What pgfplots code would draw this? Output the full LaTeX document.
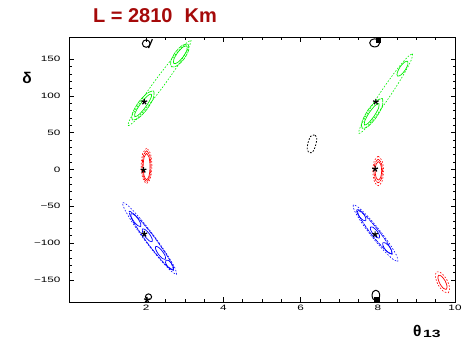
\documentclass[border=0pt]{standalone}
\usepackage{fontspec}
\setmainfont{Liberation Sans}
\newfontfamily\tickfont[FakeStretch=1.5]{Liberation Sans}
\usepackage{pgfplots}
\pgfplotsset{compat=1.18}
\definecolor{titlered}{RGB}{165,10,10}
\definecolor{cgreen}{RGB}{0,240,0}
\definecolor{cred}{RGB}{255,0,0}
\definecolor{cblue}{RGB}{0,0,255}
\pgfplotsset{
  cont/.style={smooth, line width=0.7pt, mark=none},
  mid/.style={cont, dash pattern=on 4pt off 0.8pt},
  outer/.style={cont, line width=0.6pt, dash pattern=on 1.6pt off 1.6pt},
  bf/.style={only marks, black, mark=star, mark size=3pt, mark options={line width=1.2pt}},
}
\begin{document}
\begin{tikzpicture}
\path[use as bounding box] (0,0) rectangle (469pt,343pt);
\begin{axis}[
  at={(69pt,41pt)}, anchor=south west,
  scale only axis, width=386pt, height=265pt,
  xmin=0, xmax=10, ymin=-180, ymax=180,
  xtick={2,4,6,8,10}, xticklabels={2,4,6,8,10},
  ytick={-150,-100,...,150}, yticklabels={−150,−100,−50,0,50,100,150},
  minor x tick num=3, minor y tick num=4,
  tick align=inside,
  major tick length=4.5pt, minor tick length=2.5pt,
  tick style={black, line width=0.6pt},
  axis line style={line width=0.8pt},
  ticklabel style={font=\tickfont\fontsize{7.8}{8}\selectfont},
  yticklabel style={xshift=-5pt},
]
% green: delta ~ +90
\addplot[cont, cgreen] coordinates {(2.133,102.39) (2.135,99.13) (2.080,92.64) (1.980,84.65) (1.865,77.32) (1.763,72.59) (1.703,71.75) (1.701,75.01) (1.757,81.50) (1.856,89.49) (1.972,96.82) (2.073,101.55) (2.133,102.39)};
\addplot[mid, cgreen] coordinates {(2.195,106.76) (2.194,97.86) (2.032,82.64) (1.803,70.02) (1.642,67.38) (1.642,76.28) (1.804,91.50) (2.033,104.12) (2.195,106.76)};
\addplot[cont, cgreen] coordinates {(3.055,168.02) (3.057,162.50) (2.959,153.17) (2.818,145.49) (2.717,143.96) (2.715,149.48) (2.813,158.81) (2.954,166.49) (3.055,168.02)};
\addplot[mid, cgreen] coordinates {(3.085,170.22) (3.103,162.60) (2.984,150.47) (2.799,140.94) (2.655,139.58) (2.637,147.20) (2.756,159.33) (2.941,168.86) (3.085,170.22)};
\addplot[outer, cgreen] coordinates {(3.162,175.68) (3.105,165.90) (2.845,143.20) (2.452,113.67) (2.031,85.22) (1.695,65.48) (1.534,59.72) (1.591,69.51) (1.851,92.20) (2.244,121.73) (2.665,150.18) (3.001,169.93) (3.162,175.68)};
\addplot[cont, cgreen] coordinates {(8.032,89.71) (8.023,83.81) (7.908,72.78) (7.756,63.09) (7.656,60.41) (7.665,66.31) (7.780,77.34) (7.932,87.03) (8.032,89.71)};
\addplot[mid, cgreen] coordinates {(8.120,96.47) (8.127,87.58) (7.977,72.01) (7.758,58.90) (7.598,55.91) (7.591,64.80) (7.741,80.37) (7.960,93.48) (8.120,96.47)};
\addplot[cont, cgreen] coordinates {(8.771,147.16) (8.779,142.58) (8.705,134.74) (8.594,128.24) (8.511,126.88) (8.503,131.46) (8.577,139.30) (8.688,145.80) (8.771,147.16)};
\addplot[outer, cgreen] coordinates {(8.901,157.30) (8.862,148.15) (8.647,126.97) (8.313,99.42) (7.952,72.89) (7.658,54.49) (7.511,49.14) (7.550,58.29) (7.766,79.47) (8.099,107.02) (8.461,133.55) (8.754,151.95) (8.901,157.30)};
% red: delta ~ 0 and the far solution
\addplot[cont, cred] coordinates {(2.01,22) (1.946,16.7) (1.92,4) (1.946,-8.7) (2.01,-14) (2.074,-8.7) (2.10,4) (2.074,16.7) (2.01,22)};
\addplot[mid, cred] coordinates {(2.01,25.5) (1.929,19.3) (1.895,4.5) (1.929,-10.3) (2.01,-16.5) (2.091,-10.3) (2.125,4.5) (2.091,19.3) (2.01,25.5)};
\addplot[outer, cred] coordinates {(2.01,29) (1.911,22) (1.87,5) (1.911,-12) (2.01,-19) (2.109,-12) (2.15,5) (2.109,22) (2.01,29)};
\addplot[cont, cred] coordinates {(8.015,10.7) (7.955,7.04) (7.930,-1.8) (7.955,-10.64) (8.015,-14.3) (8.075,-10.64) (8.100,-1.8) (8.075,7.04) (8.015,10.7)};
\addplot[mid, cred] coordinates {(8.01,14) (7.932,9.31) (7.90,-2) (7.932,-13.31) (8.01,-18) (8.088,-13.31) (8.12,-2) (8.088,9.31) (8.01,14)};
\addplot[outer, cred] coordinates {(8.01,18) (7.911,12.14) (7.87,-2) (7.911,-16.14) (8.01,-22) (8.109,-16.14) (8.15,-2) (8.109,12.14) (8.01,18)};
\addplot[cont, cred] coordinates {(9.776,-162.84) (9.795,-158.67) (9.745,-151.35) (9.655,-145.17) (9.578,-143.76) (9.559,-147.93) (9.609,-155.25) (9.699,-161.43) (9.776,-162.84)};
\addplot[outer, cred] coordinates {(9.826,-167.62) (9.863,-161.12) (9.791,-150.05) (9.652,-140.88) (9.528,-138.98) (9.491,-145.48) (9.563,-156.56) (9.702,-165.72) (9.826,-167.62)};
% blue: delta ~ -90
\addplot[outer, cblue] coordinates {(2.790,-142.66) (2.748,-134.07) (2.530,-114.67) (2.195,-89.66) (1.831,-65.75) (1.537,-49.33) (1.392,-44.82) (1.434,-53.41) (1.652,-72.81) (1.987,-97.82) (2.351,-121.73) (2.645,-138.15) (2.790,-142.66)};
\addplot[mid, cblue] coordinates {(2.712,-137.23) (2.609,-122.85) (2.230,-93.33) (1.796,-65.97) (1.562,-56.77) (1.665,-71.15) (2.044,-100.67) (2.478,-128.03) (2.712,-137.23)};
\addplot[cont, cblue] coordinates {(1.857,-77.43) (1.858,-73.44) (1.785,-66.69) (1.682,-61.14) (1.609,-60.03) (1.609,-64.02) (1.681,-70.77) (1.784,-76.32) (1.857,-77.43)};
\addplot[cont, cblue] coordinates {(2.153,-98.09) (2.154,-94.10) (2.081,-87.35) (1.978,-81.80) (1.905,-80.69) (1.905,-84.68) (1.977,-91.43) (2.080,-96.98) (2.153,-98.09)};
\addplot[cont, cblue] coordinates {(2.495,-122.01) (2.496,-118.02) (2.423,-111.27) (2.320,-105.72) (2.247,-104.61) (2.247,-108.60) (2.319,-115.35) (2.422,-120.90) (2.495,-122.01)};
\addplot[cont, cblue] coordinates {(2.697,-136.13) (2.707,-132.78) (2.656,-127.57) (2.575,-123.56) (2.511,-123.09) (2.501,-126.44) (2.552,-131.65) (2.633,-135.66) (2.697,-136.13)};
\addplot[outer, cblue] coordinates {(8.521,-125.00) (8.495,-117.75) (8.320,-102.15) (8.045,-82.39) (7.742,-63.75) (7.493,-51.23) (7.365,-48.20) (7.391,-55.45) (7.566,-71.05) (7.841,-90.81) (8.144,-109.45) (8.393,-121.97) (8.521,-125.00)};
\addplot[mid, cblue] coordinates {(8.377,-115.41) (8.303,-104.28) (8.008,-82.17) (7.667,-62.04) (7.477,-55.67) (7.552,-66.80) (7.846,-88.91) (8.188,-109.04) (8.377,-115.41)};
\addplot[cont, cblue] coordinates {(7.686,-69.54) (7.689,-65.86) (7.625,-59.96) (7.530,-55.30) (7.462,-54.60) (7.459,-58.28) (7.523,-64.18) (7.618,-68.84) (7.686,-69.54)};
\addplot[cont, cblue] coordinates {(8.039,-93.01) (8.042,-89.33) (7.978,-83.43) (7.883,-78.77) (7.815,-78.07) (7.812,-81.75) (7.876,-87.65) (7.971,-92.31) (8.039,-93.01)};
\addplot[cont, cblue] coordinates {(8.360,-114.34) (8.363,-110.66) (8.299,-104.76) (8.204,-100.10) (8.136,-99.40) (8.133,-103.08) (8.197,-108.98) (8.292,-113.64) (8.360,-114.34)};
% black: delta ~ +-180 and the isolated island
\addplot[cont, black, line width=1pt] coordinates {(2.0,176) (1.929,174.5) (1.90,171) (1.929,167.5) (2.0,166) (2.071,167.5) (2.10,171) (2.071,174.5) (2.0,176)};
\addplot[black, line width=1.2pt] coordinates {(2.06,165) (2.16,177)};
\addplot[cont, black, line width=1pt] coordinates {(7.92,177.5) (7.828,175.9) (7.79,172) (7.828,168.1) (7.92,166.5) (8.012,168.1) (8.05,172) (8.012,175.9) (7.92,177.5)};
\addplot[only marks, black, mark=square*, mark size=2pt] coordinates {(8.02,176)};
\addplot[cont, black, line width=1pt] coordinates {(2.06,-169) (2.003,-170.2) (1.98,-173) (2.003,-175.8) (2.06,-177) (2.117,-175.8) (2.14,-173) (2.117,-170.2) (2.06,-169)};
\addplot[cont, black, line width=1pt] coordinates {(7.95,-164) (7.879,-166.05) (7.85,-171) (7.879,-175.95) (7.95,-178) (8.021,-175.95) (8.05,-171) (8.021,-166.05) (7.95,-164)};
\addplot[only marks, black, mark=square*, mark size=2.5pt] coordinates {(7.96,-177)};
\addplot[outer, black, line width=0.8pt] coordinates {(6.36,47) (6.26,45) (6.19,36) (6.17,28) (6.20,24) (6.30,23) (6.38,31) (6.42,43) (6.36,47)};
% best-fit points
\addplot[bf] coordinates {(1.95,92) (1.93,-0.7) (1.95,-87.6) (2.02,-177) (7.95,92) (7.93,0.7) (7.93,-88)};
\end{axis}
\node[anchor=center, text=titlered, font=\bfseries\fontsize{20}{21}\selectfont] at (155pt,327.5pt) {L = 2810\,\, Km};
\node[anchor=base, font=\bfseries\fontsize{15.5}{16}\selectfont] at (27.2pt,259.7pt) {δ};
\node[anchor=base west, inner sep=0pt] at (413pt,6.3pt) {\bfseries\fontsize{15.5}{16}\selectfont θ\hspace{1.5pt}\raisebox{-1pt}{\tickfont\fontsize{10.5}{11}\selectfont 13}};
\end{tikzpicture}
\end{document}
